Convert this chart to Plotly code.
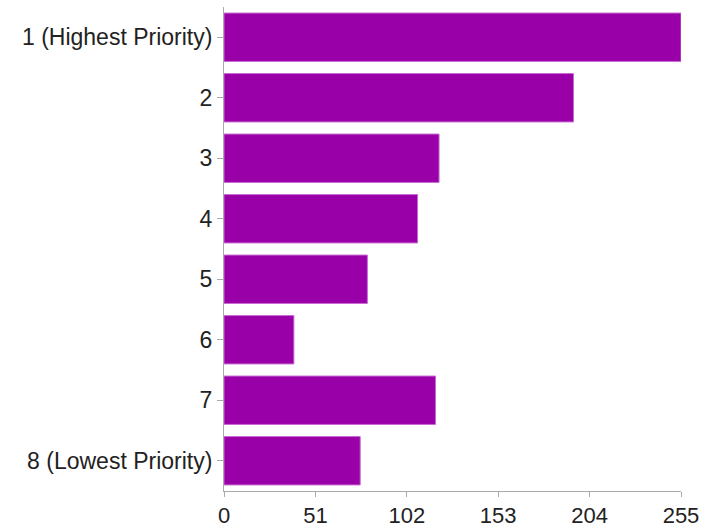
import plotly.graph_objects as go

categories = ["1 (Highest Priority)", "2", "3", "4", "5", "6", "7", "8 (Lowest Priority)"]
values = [255, 195, 120, 108, 80, 39, 118, 76]
x_ticks = [0, 51, 102, 153, 204, 255]

fig = go.Figure(go.Bar(
    x=values,
    y=categories,
    orientation="h",
    marker=dict(color="#9900a8", line=dict(color="#c76ad2", width=1)),
))

fig.update_layout(
    width=703, height=528,
    margin=dict(l=224, r=22, t=7, b=37, autoexpand=False),
    paper_bgcolor="white", plot_bgcolor="white",
    bargap=0.2,
    showlegend=False,
    font=dict(family="Liberation Sans, Arial, sans-serif", size=23, color="#222222"),
)
fig.update_xaxes(
    range=[0, 255], tickvals=x_ticks, ticktext=[str(t) for t in x_ticks],
    showgrid=False, zeroline=False, showline=True, linecolor="#aaaaaa", linewidth=1,
    ticks="outside", ticklen=5, tickcolor="#aaaaaa", automargin=False,
    tickfont=dict(size=22),
)
fig.update_yaxes(
    categoryorder="array", categoryarray=categories, autorange="reversed",
    showgrid=False, zeroline=False, showline=True, linecolor="#aaaaaa", linewidth=1,
    ticks="outside", ticklen=6, tickcolor="#aaaaaa", automargin=False,
)

fig.write_html(
    "out.html",
    config={"displayModeBar": False},
    post_script="document.body.style.margin='0';document.body.style.overflow='hidden';",
)
